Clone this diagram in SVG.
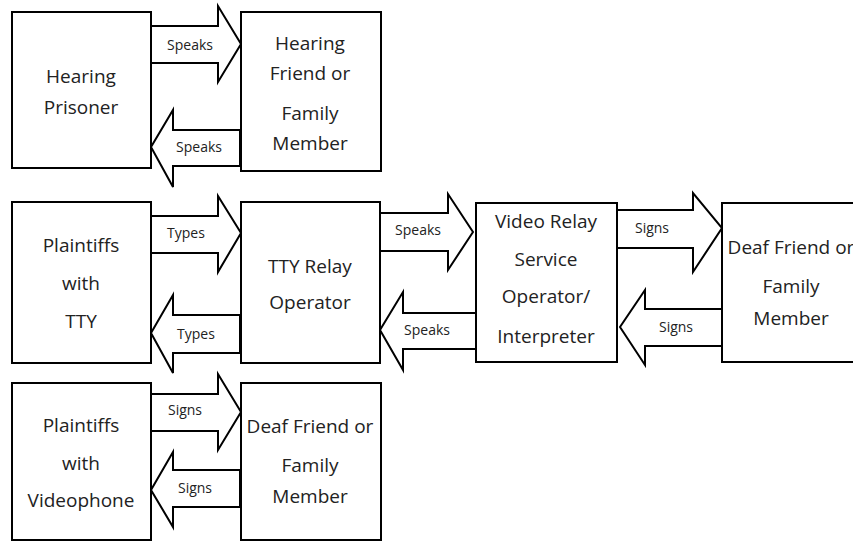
<svg xmlns="http://www.w3.org/2000/svg" width="853" height="542" viewBox="0 0 853 542">
<style>
.box{fill:#fff;stroke:#000;stroke-width:2}
.arr{fill:#fff;stroke:#000;stroke-width:2;stroke-linejoin:miter}
.t{font-family:"Open Sans","Noto Sans",sans-serif;font-size:19px;fill:#222;text-anchor:middle}
.l{font-family:"Open Sans","Noto Sans",sans-serif;font-size:14px;fill:#222;text-anchor:middle}
</style>
<rect width="853" height="542" fill="#fff"/>
<g id="connectors">
  <polygon class="arr" points="151,26 218,26 218,6 241,44 218,82 218,63 151,63"/>
  <polygon class="arr" points="240,130 173,130 173,110 151,147 173,187 173,166 240,166"/>
  <polygon class="arr" points="151,216 218,216 218,196 241,233 218,272 218,253 151,253"/>
  <polygon class="arr" points="240,315 173,315 173,295 151,333 173,373 173,353 240,353"/>
  <polygon class="arr" points="380,213 448,213 448,194 473,232 448,270 448,251 380,251"/>
  <polygon class="arr" points="476,313 403,313 403,292 380,330 403,370 403,349 476,349"/>
  <polygon class="arr" points="617,210 693,210 693,193 722,228 693,272 693,248 617,248"/>
  <polygon class="arr" points="722,309 645,309 645,290 620,327 645,365 645,346 722,346"/>
  <polygon class="arr" points="151,394 218,394 218,374 241,412 218,450 218,431 151,431"/>
  <polygon class="arr" points="240,470 173,470 173,452 151,490 173,527 173,507 240,507"/>
  <text class="l" x="190" y="50">Speaks</text>
  <text class="l" x="199" y="152">Speaks</text>
  <text class="l" x="186" y="238">Types</text>
  <text class="l" x="196" y="339">Types</text>
  <text class="l" x="418" y="235">Speaks</text>
  <text class="l" x="427" y="335">Speaks</text>
  <text class="l" x="652" y="233">Signs</text>
  <text class="l" x="676" y="332">Signs</text>
  <text class="l" x="185" y="415">Signs</text>
  <text class="l" x="195" y="493">Signs</text>
</g>
<g id="hearing-prisoner">
  <rect class="box" x="12" y="12" width="139" height="156"/>
  <text class="t" x="81" y="83">Hearing</text>
  <text class="t" x="81" y="114">Prisoner</text>
</g>
<g id="hearing-friend">
  <rect class="box" x="241" y="12" width="140" height="159"/>
  <text class="t" x="310" y="50">Hearing</text>
  <text class="t" x="310" y="80">Friend or</text>
  <text class="t" x="310" y="120">Family</text>
  <text class="t" x="310" y="150">Member</text>
</g>
<g id="plaintiffs-tty">
  <rect class="box" x="12" y="202" width="139" height="161"/>
  <text class="t" x="81" y="252">Plaintiffs</text>
  <text class="t" x="81" y="290">with</text>
  <text class="t" x="81" y="328">TTY</text>
</g>
<g id="tty-relay">
  <rect class="box" x="241" y="202" width="139" height="161"/>
  <text class="t" x="310" y="273">TTY Relay</text>
  <text class="t" x="310" y="309">Operator</text>
</g>
<g id="vrs">
  <rect class="box" x="476" y="203" width="141" height="159"/>
  <text class="t" x="546" y="228">Video Relay</text>
  <text class="t" x="546" y="266">Service</text>
  <text class="t" x="546" y="303">Operator/</text>
  <text class="t" x="546" y="343">Interpreter</text>
</g>
<g id="deaf-friend-right">
  <rect class="box" x="722" y="203" width="150" height="159"/>
  <text class="t" x="791" y="254">Deaf Friend or</text>
  <text class="t" x="791" y="293">Family</text>
  <text class="t" x="791" y="325">Member</text>
</g>
<g id="plaintiffs-videophone">
  <rect class="box" x="12" y="383" width="139" height="157"/>
  <text class="t" x="81" y="432">Plaintiffs</text>
  <text class="t" x="81" y="470">with</text>
  <text class="t" x="81" y="507">Videophone</text>
</g>
<g id="deaf-friend-bottom">
  <rect class="box" x="241" y="383" width="140" height="157"/>
  <text class="t" x="310" y="433">Deaf Friend or</text>
  <text class="t" x="310" y="472">Family</text>
  <text class="t" x="310" y="503">Member</text>
</g>
</svg>
